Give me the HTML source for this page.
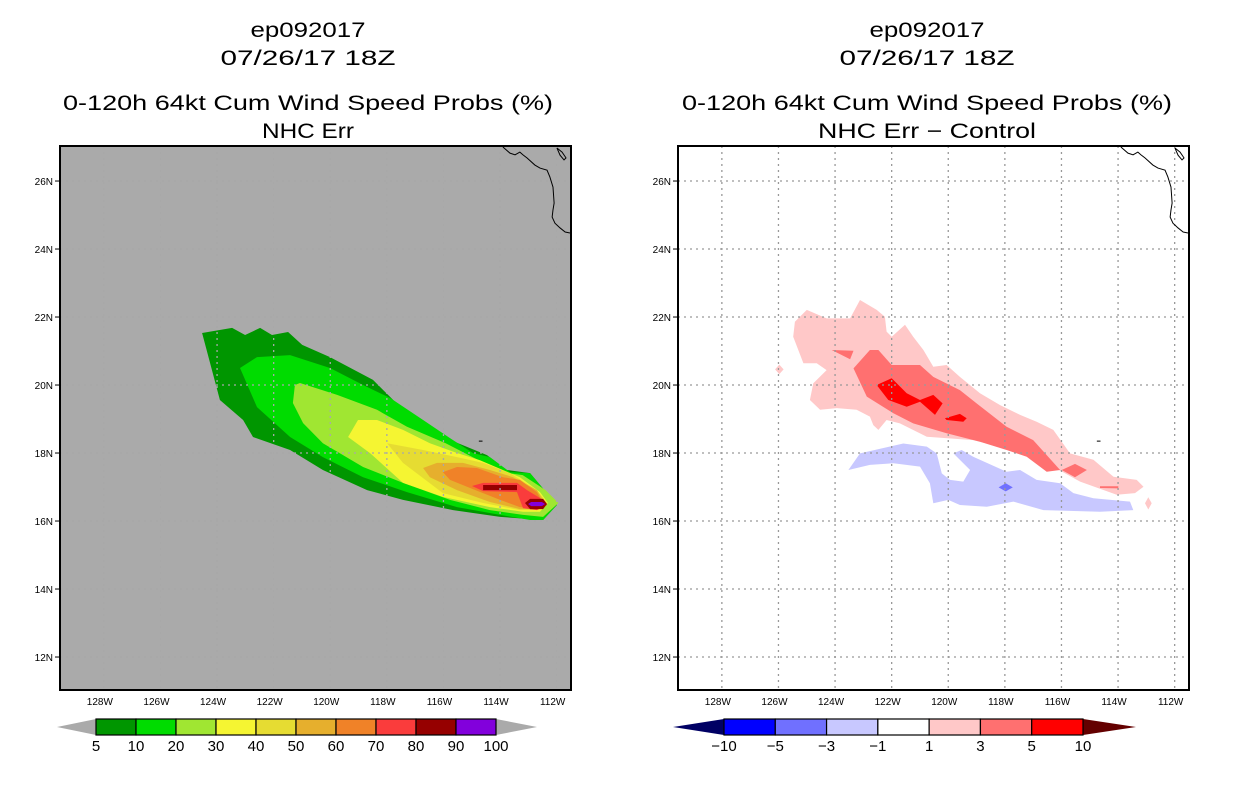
<!DOCTYPE html>
<html><head><meta charset="utf-8"><style>
body{margin:0;background:#fff;width:1236px;height:800px;overflow:hidden;font-family:"Liberation Sans",sans-serif}
svg{position:absolute;left:0;top:0}
</style></head><body>
<svg id="s" width="1236" height="800" viewBox="0 0 1236 800"></svg>
<script>
// ---- data ----
const latTicks=[26,24,22,20,18,16,14,12];
const lonTicks=[128,126,124,122,120,118,116,114,112];
const leftLevels=[5,10,20,30,40,50,60,70,80,90,100];
const leftColors=['#009600','#00dc00','#a0e632','#f5f532','#e6dc32','#e6af2d','#f08228','#fa3c3c','#960000','#8200dc'];
const rightLevels=[-10,-5,-3,-1,1,3,5,10];
const rightColors=['#0000ff','#7070ff','#c8c8ff','#ffffff','#ffc8c8','#ff7070','#ff0000'];
const p5=[[-124.53,21.53],[-123.47,21.68],[-123.01,21.47],[-122.48,21.68],[-122.06,21.47],[-121.49,21.56],[-120.99,21.18],[-120.01,20.82],[-118.49,20.15],[-117.43,19.27],[-116.02,18.47],[-115.17,18.18],[-114.46,17.94],[-113.76,17.5],[-112.94,17.41],[-111.99,16.47],[-112.48,16.03],[-114.0,16.12],[-115.66,16.32],[-117.43,16.62],[-118.7,16.91],[-120.26,17.5],[-121.42,18.09],[-122.73,18.47],[-123.08,18.97],[-123.9,19.56]];
const p10=[[-123.19,20.5],[-122.59,20.82],[-121.42,20.88],[-120.01,20.5],[-118.84,20.0],[-117.89,19.62],[-116.72,18.97],[-115.77,18.44],[-114.96,18.0],[-114.36,17.88],[-113.65,17.44],[-112.94,17.41],[-111.99,16.47],[-112.48,16.03],[-112.94,16.03],[-114.0,16.18],[-115.52,16.41],[-117.29,16.85],[-118.84,17.29],[-120.26,17.88],[-121.42,18.47],[-122.59,19.35]];
const p20=[[-121.25,20.0],[-121.07,20.06],[-119.76,19.71],[-118.35,19.27],[-117.29,18.77],[-115.92,18.29],[-114.97,17.88],[-114.4,17.65],[-113.7,17.41],[-113.2,17.35],[-112.39,16.91],[-111.94,16.53],[-112.48,16.12],[-113.19,16.18],[-114.36,16.32],[-115.77,16.62],[-117.43,17.12],[-118.84,17.59],[-120.26,18.29],[-120.96,18.88],[-121.32,19.47]];
const p30=[[-119.37,18.47],[-119.02,18.97],[-118.35,18.97],[-117.43,18.68],[-116.48,18.29],[-115.52,18.0],[-114.71,17.79],[-113.9,17.5],[-113.3,17.29],[-112.59,16.85],[-112.31,16.53],[-112.59,16.27],[-113.19,16.27],[-114.36,16.41],[-116.02,16.71],[-117.43,17.12],[-118.6,18.0]];
const p40=[[-117.99,18.29],[-116.72,18.09],[-115.52,17.88],[-114.6,17.71],[-113.65,17.41],[-112.7,16.91],[-112.34,16.53],[-112.66,16.32],[-113.3,16.32],[-114.6,16.53],[-116.02,16.82],[-117.43,17.71]];
const p50=[[-116.72,17.56],[-116.23,17.71],[-115.31,17.71],[-114.36,17.5],[-113.54,17.29],[-112.7,16.91],[-112.41,16.53],[-112.7,16.35],[-113.3,16.35],[-114.36,16.56],[-115.52,16.91],[-116.48,17.29]];
const p60=[[-116.02,17.44],[-115.52,17.59],[-114.82,17.56],[-113.9,17.29],[-113.3,17.21],[-112.7,16.85],[-112.48,16.53],[-112.7,16.38],[-113.3,16.41],[-114.0,16.62],[-115.06,16.97],[-115.77,17.21]];
const p70=[[-114.99,17.03],[-114.6,17.12],[-113.4,17.12],[-113.05,16.91],[-112.48,16.62],[-112.34,16.47],[-112.7,16.32],[-113.19,16.38],[-113.4,16.85],[-114.6,16.88]];
const p80a=[[-114.6,17.06],[-113.4,17.06],[-113.4,16.91],[-114.6,16.91]];
const p80b=[[-113.12,16.53],[-112.94,16.65],[-112.48,16.65],[-112.34,16.5],[-112.48,16.35],[-112.94,16.35]];
const p90=[[-113.01,16.5],[-112.9,16.56],[-112.52,16.56],[-112.41,16.5],[-112.52,16.44],[-112.9,16.44]];
const r1=[[-125.48,21.42],[-125.42,21.86],[-125.0,22.21],[-124.3,21.96],[-123.47,21.96],[-123.12,22.5],[-122.53,22.21],[-122.24,22.01],[-122.18,21.57],[-122.0,21.42],[-121.53,21.77],[-121.24,21.42],[-120.88,21.03],[-120.53,20.54],[-120.06,20.59],[-119.59,20.24],[-118.88,19.76],[-118.17,19.41],[-117.46,19.12],[-116.88,18.92],[-116.29,18.68],[-115.7,17.99],[-114.87,17.8],[-114.16,17.3],[-113.34,17.21],[-113.1,17.01],[-113.4,16.82],[-114.05,16.77],[-115.34,17.16],[-116.52,17.7],[-117.7,18.09],[-119.12,18.38],[-120.76,18.48],[-121.71,18.87],[-122.18,18.97],[-122.47,18.68],[-122.65,18.82],[-122.77,19.07],[-123.24,19.27],[-123.94,19.32],[-124.53,19.27],[-124.89,19.56],[-124.77,20.05],[-124.3,20.44],[-124.65,20.64],[-125.12,20.64]];
const r1b=[[-126.12,20.46],[-125.97,20.6],[-125.82,20.46],[-125.97,20.32]];
const r1c=[[-113.05,16.52],[-112.93,16.7],[-112.81,16.52],[-112.93,16.34]];
const r3=[[-123.35,20.49],[-122.77,21.03],[-122.47,21.03],[-122.0,20.59],[-121.0,20.59],[-120.53,20.24],[-119.59,19.85],[-119.0,19.46],[-117.94,18.77],[-117.0,18.38],[-116.05,17.5],[-116.52,17.45],[-117.23,17.89],[-117.94,18.09],[-118.88,18.33],[-120.06,18.58],[-121.24,18.87],[-121.94,19.17],[-122.88,19.66]];
const r3b=[[-124.12,21.03],[-123.35,21.01],[-123.47,20.76]];
const r3c=[[-115.99,17.5],[-115.52,17.68],[-115.1,17.5],[-115.52,17.29]];
const r3d=[[-114.64,17.02],[-113.99,17.02],[-113.99,16.96],[-114.64,16.97]];
const r5=[[-122.53,20.0],[-122.0,20.2],[-121.47,19.76],[-121.0,19.56],[-120.53,19.71],[-120.2,19.46],[-120.47,19.12],[-121.0,19.51],[-121.47,19.36],[-122.12,19.56]];
const r5b=[[-120.12,19.02],[-119.59,19.15],[-119.35,19.02],[-119.47,18.92],[-120.06,18.97]];
const b1=[[-123.53,17.5],[-123.12,17.99],[-121.59,18.28],[-120.76,18.19],[-120.41,17.99],[-120.23,17.4],[-119.94,17.21],[-119.47,17.16],[-119.23,17.5],[-119.82,17.99],[-119.53,18.09],[-119.12,17.89],[-117.94,17.45],[-117.46,17.5],[-116.88,17.21],[-116.05,17.11],[-115.58,16.82],[-114.87,16.67],[-113.58,16.57],[-113.46,16.32],[-114.64,16.27],[-116.64,16.32],[-117.7,16.57],[-118.64,16.42],[-119.59,16.47],[-120.0,16.62],[-120.53,16.52],[-120.65,17.11],[-121.0,17.6],[-121.94,17.7],[-122.77,17.65]];
const b3=[[-118.22,16.99],[-117.97,17.11],[-117.72,16.99],[-117.97,16.87]];
const coast=[[-113.9,27.0],[-113.65,26.82],[-113.47,26.77],[-113.3,26.85],[-113.19,26.77],[-113.05,26.68],[-112.77,26.47],[-112.59,26.38],[-112.34,26.32],[-112.24,26.12],[-112.13,25.82],[-112.09,25.35],[-112.13,25.15],[-112.16,24.94],[-112.06,24.76],[-111.88,24.62],[-111.7,24.5],[-111.53,24.47]];
const island=[[-111.99,26.97],[-111.81,26.85],[-111.67,26.68],[-111.74,26.62],[-111.88,26.76]];

// ---- axes ----
const W0=-129.55, PXDEG=28.3, N0=27.03, PYDEG=34;
const X=(ox,lon)=>ox+(lon-W0)*PXDEG;
const Y=lat=>146+(N0-lat)*PYDEG;
const NS='http://www.w3.org/2000/svg';
const svg=document.getElementById('s');
function mk(tag,attrs,parent){const e=document.createElementNS(NS,tag);for(const k in attrs)e.setAttribute(k,attrs[k]);(parent||svg).appendChild(e);return e;}
function poly(ox,pts,fill,name,g){
  const e=mk('polygon',{points:pts.map(p=>X(ox,p[0]).toFixed(1)+','+Y(p[1]).toFixed(1)).join(' '),fill:fill},g);
  
  
}
function txt(x,y,s,size,anchor,name,g,len){
  const a={x:x,y:y,'font-size':size,'text-anchor':anchor||'middle','font-family':'Liberation Sans, sans-serif',fill:'#000'};
  if(len){a.textLength=len;a.lengthAdjust='spacingAndGlyphs';}
  const e=mk('text',a,g);
  e.textContent=s;
  
  
}
function panel(ox,bg,titleLines,lens,cx,side){
  const g=mk('g',{});
  
  
  titleLines.forEach((t,i)=>txt(cx,[37,65,110,138][i],t,21,'middle',side+'-title-line-'+(i+1),g,lens[i]));
  const bgR=mk('rect',{x:ox,y:146,width:511,height:544,fill:bg},g);
  
  
  return g;
}
function gridAndFrame(ox,gridCol,side,g){
  const cp='clip'+side;
  const cl=mk('clipPath',{id:cp},g);mk('rect',{x:ox,y:146,width:511,height:544},cl);
  const gg=mk('g',{'clip-path':'url(#'+cp+')'},g);
  
  
  lonTicks.forEach(l=>{const x=X(ox,-l);mk('line',{x1:x,y1:146,x2:x,y2:690,stroke:gridCol,'stroke-width':1.3,'stroke-dasharray':'2,4'},gg);});
  latTicks.forEach(l=>{const y=Y(l);mk('line',{x1:ox,y1:y,x2:ox+511,y2:y,stroke:gridCol,'stroke-width':1.3,'stroke-dasharray':'2,4'},gg);});
  const c=mk('polyline',{points:coast.map(p=>X(ox,p[0])+','+Y(p[1])).join(' '),fill:'none',stroke:'#000','stroke-width':1},gg);
  
  
  const is=mk('polygon',{points:island.map(p=>X(ox,p[0])+','+Y(p[1])).join(' '),fill:'none',stroke:'#000','stroke-width':1},gg);
  
  
  mk('line',{x1:X(ox,-114.75),y1:Y(18.35),x2:X(ox,-114.62),y2:Y(18.35),stroke:'#000','stroke-width':1},gg);
  const fr=mk('rect',{x:ox,y:146,width:511,height:544,fill:'none',stroke:'#000','stroke-width':2},g);
  
  
  latTicks.forEach(l=>{const y=Y(l);mk('line',{x1:ox-5,y1:y,x2:ox,y2:y,stroke:'#000'},g);txt(ox-7,y+4,l+'N',10,'end',side+'-lat-label-'+l,g);});
  lonTicks.forEach(l=>{const x=X(ox,-l);txt(x-4,705,l+'W',10,'middle',side+'-lon-label-'+l,g);});
}
function colorbar(x0,x1,tipL,tipR,levels,colors,leftTip,rightTip,side,labelFmt){
  const g=mk('g',{});
  
  
  const w=(x1-x0)/colors.length;
  mk('polygon',{points:`${tipL},727 ${x0},719 ${x0},735`,fill:leftTip},g);
  mk('polygon',{points:`${tipR},727 ${x1},719 ${x1},735`,fill:rightTip},g);
  colors.forEach((c,i)=>{const r=mk('rect',{x:x0+i*w,y:719,width:w,height:16,fill:c,stroke:'#000','stroke-width':1.2},g);
    
    });
  levels.forEach((v,i)=>txt(x0+i*w,751,labelFmt(v),15,'middle',side+'-colorbar-label-'+i,g));
}
// left panel
const gl=panel(60,'#aaaaaa',['ep092017','07/26/17 18Z','0-120h 64kt Cum Wind Speed Probs (%)','NHC Err'],[115,175,490,92],308,'left');
[[p5,0],[p10,1],[p20,2],[p30,3],[p40,4],[p50,5],[p60,6],[p70,7],[p80a,8],[p80b,8],[p90,9]].forEach(([p,i],k)=>poly(60,p,leftColors[i],'prob-contour-'+leftLevels[i]+'-'+k,gl));
gridAndFrame(60,'#a8a8a8','left',gl);
colorbar(96,496,57,537,leftLevels,leftColors,'#aaaaaa','#aaaaaa','left',v=>String(v));
// right panel
const gr=panel(678,'#ffffff',['ep092017','07/26/17 18Z','0-120h 64kt Cum Wind Speed Probs (%)','NHC Err \u2212 Control'],[115,175,490,218],927,'right');
[[r1,4],[r1b,4],[r1c,4],[r3,5],[r3b,5],[r3c,5],[r3d,5],[r5,6],[r5b,6],[b1,2],[b3,1]].forEach(([p,i],k)=>poly(678,p,rightColors[i],'diff-contour-'+rightLevels[i]+'-'+k,gr));
gridAndFrame(678,'#999999','right',gr);
colorbar(724,1083,673,1136,rightLevels,rightColors,'#000064','#640000','right',v=>v<0?'\u2212'+(-v):String(v));
</script>
</body></html>
